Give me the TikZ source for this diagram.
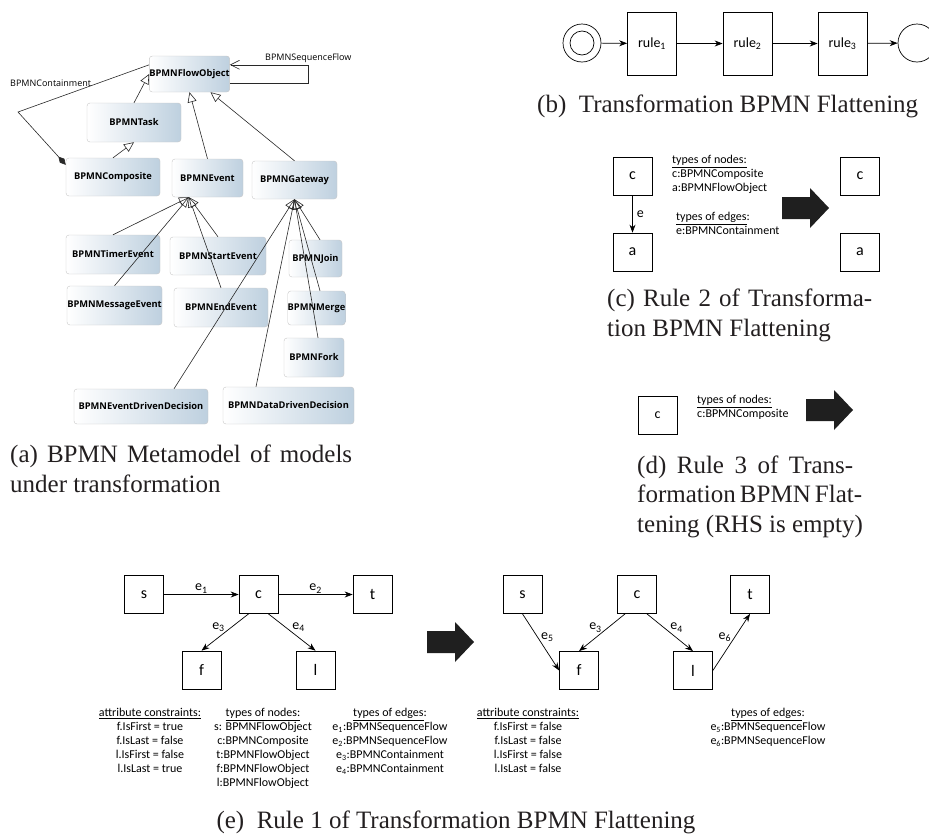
\documentclass[tikz,border=0pt]{standalone}
\usepackage{fontspec}
\setmainfont{Liberation Serif}
\newfontfamily\calfont{Carlito}
\newfontfamily\metafont{Open Sans}
\usetikzlibrary{arrows.meta,calc}

\definecolor{metablue}{RGB}{190,208,223}
\definecolor{metaline}{RGB}{40,40,40}
\definecolor{captext}{RGB}{35,31,32}

\newcommand{\lowsub}[1]{\textsubscript{#1}}
\newcommand{\blockarrow}[1]{\fill[black!88,shift={(#1)}] (-24,-11) -- (4,-11) -- (4,-20) -- (23,0) -- (4,20) -- (4,11) -- (-24,11) -- cycle;}

\tikzset{
  metabox/.style={draw=black!22, rounded corners=3pt, left color=white, right color=metablue, inner sep=0pt,
    font=\metafont\fontsize{9.3}{11}\selectfont\bfseries},
  metalabel/.style={inner sep=0pt, font=\metafont\fontsize{9}{11}\selectfont},
  isa/.style={draw=metaline, line width=0.6pt, -{Triangle[open,length=10pt,width=9pt]}},
  rulebox/.style={draw, line width=0.7pt, fill=white, minimum width=39pt, minimum height=38pt, inner sep=0pt,
    font=\calfont\fontsize{16}{18}\selectfont},
  flow/.style={line width=0.7pt, -{Stealth[length=8pt,width=6pt]}},
  elabel/.style={inner sep=1pt, font=\calfont\fontsize{14}{16}\selectfont},
  info/.style={inner sep=0pt, font=\calfont\fontsize{12}{14}\selectfont},
  caption/.style={inner sep=0pt, anchor=base west, text=captext, font=\fontsize{25}{30}\selectfont},
}

\begin{document}
\begin{tikzpicture}[x=1pt,y=-1pt]
\useasboundingbox (0,0) rectangle (929,833);

\node[metabox, minimum width=79pt, minimum height=36pt] (flow) at (189.5,74) {BPMNFlowObject};
\node[metabox, minimum width=94pt, minimum height=39pt] (task) at (134,122.5) {BPMNTask};
\node[metabox, minimum width=94pt, minimum height=38pt] (comp) at (113,177) {BPMNComposite};
\node[metabox, minimum width=71pt, minimum height=38pt] (event) at (207.5,178) {BPMNEvent};
\node[metabox, minimum width=85pt, minimum height=38pt] (gate) at (294.5,180) {BPMNGateway};
\node[metabox, minimum width=94pt, minimum height=39pt] (timer) at (113,254.5) {BPMNTimerEvent};
\node[metabox, minimum width=96pt, minimum height=38pt] (start) at (218,256) {BPMNStartEvent};
\node[metabox, minimum width=53pt, minimum height=37pt] (join) at (315.5,258.5) {BPMNJoin};
\node[metabox, minimum width=95pt, minimum height=39pt] (message) at (114.5,305.5) {BPMNMessageEvent};
\node[metabox, minimum width=94pt, minimum height=39pt] (endev) at (221,307.5) {BPMNEndEvent};
\node[metabox, minimum width=55pt, minimum height=34pt] (merge) at (316.5,308) {BPMNMerge};
\node[metabox, minimum width=60pt, minimum height=39pt] (fork) at (314,357.5) {BPMNFork};
\node[metabox, minimum width=134pt, minimum height=35pt] (evdec) at (141,406.5) {BPMNEventDrivenDecision};
\node[metabox, minimum width=131pt, minimum height=37pt] (dadec) at (288.5,405.5) {BPMNDataDrivenDecision};

\coordinate (evapex) at ($(event.south west)!0.24!(event.south east)$);
\coordinate (contbend) at (18,112);
\draw[isa] (task.north) -- ($(flow.north west)!0.5!(flow.south west)$);
\draw[isa] (comp.north) -- (task.south);
\draw[isa] (event.north) -- (flow.south);
\draw[isa] (gate.north) -- ($(flow.south west)!0.76!(flow.south east)$);
\foreach \child in {timer,message,start,endev}
  \draw[isa] (\child.north) -- (evapex);
\draw[isa] ([xshift=4.5pt]join.north) -- (gate.south);
\draw[isa] ([xshift=3.5pt]merge.north) -- (gate.south);
\draw[isa] ([xshift=4pt]fork.north) -- (gate.south);
\draw[isa] ([xshift=33pt]evdec.north) -- (gate.south);
\draw[isa] ([xshift=-32.5pt]dadec.north) -- (gate.south);
\draw[draw=metaline, line width=0.6pt, {Diamond[length=11pt,width=6pt]}-]
  ($(comp.north west)+(0,7)$) -- (contbend) -- ($(flow.north west)+(0,9)$);
\draw[draw=metaline, line width=0.6pt, -{Straight Barb[length=9pt,width=9pt]}]
  ($(flow.north east)+(0,27)$) -- ++(78,0) |- ($(flow.north east)+(0,9)$);
\node[metalabel, anchor=west] (seqlbl) at (265,58) {BPMNSequenceFlow};
\node[metalabel, anchor=west] (contlbl) at (10,83) {BPMNContainment};

\node[caption] (capA1) at (10,462) {\makebox[342pt][s]{(a) BPMN Metamodel of models}};
\node[caption] (capA2) at (10,492) {under transformation};

\node[circle, draw, line width=0.7pt, minimum size=38pt, inner sep=0pt] (init) at (582,43) {};
\node[circle, draw, line width=0.7pt, minimum size=24pt, inner sep=0pt] (initin) at (init) {};
\node[rulebox, minimum width=49pt, minimum height=63pt, font=\calfont\fontsize{14}{16}\selectfont] (rule1) at (652,43.5) {rule\lowsub{1}};
\node[rulebox, minimum width=49pt, minimum height=63pt, font=\calfont\fontsize{14}{16}\selectfont] (rule2) at (747.5,43.5) {rule\lowsub{2}};
\node[rulebox, minimum width=49pt, minimum height=63pt, font=\calfont\fontsize{14}{16}\selectfont] (rule3) at (842.5,43.5) {rule\lowsub{3}};
\node[circle, draw, line width=0.7pt, minimum size=38pt, inner sep=0pt] (final) at (917,43) {};
\draw[flow] (init) -- (rule1);
\draw[flow] (rule1) -- (rule2);
\draw[flow] (rule2) -- (rule3);
\draw[flow] (rule3) -- (final);
\node[caption] (capB) at (537,112) {(b)\hspace{0.5em}Transformation BPMN Flattening};

\node[rulebox] (cLhs) at (632.5,176) {c};
\node[rulebox] (aLhs) at (632.5,252) {a};
\node[rulebox] (cRhs) at (860,176) {c};
\node[rulebox] (aRhs) at (860,252) {a};
\draw[flow] (cLhs) -- node[elabel, right=3pt] {e} (aLhs);
\node[info, anchor=north west, align=left] (nodesC) at (672,155) {\underline{types of nodes:}\\c:BPMNComposite\\a:BPMNFlowObject};
\node[info, anchor=north west, align=left] (edgesC) at (676,212) {\underline{types of edges}:\\e:BPMNContainment};
\coordinate (arrC) at (806,208);
\blockarrow{arrC}
\node[caption] (capC1) at (607,306) {\makebox[265pt][s]{(c) Rule 2 of Transforma-}};
\node[caption] (capC2) at (607,336) {tion BPMN Flattening};

\node[rulebox, font=\calfont\fontsize{14}{16}\selectfont] (cDel) at (657.5,415.5) {c};
\node[info, anchor=north west, align=left] (nodesD) at (697,395) {\underline{types of nodes:}\\c:BPMNComposite};
\coordinate (arrD) at (830,410);
\blockarrow{arrD}
\node[caption] (capD1) at (637,473) {\makebox[216pt][s]{(d) Rule 3 of Trans-}};
\node[caption] (capD2) at (637,502) {\makebox[216pt][s]{formation BPMN Flat-}};
\node[caption] (capD3) at (637,532) {tening (RHS is empty)};

\node[rulebox] (sL) at (144,594.5) {s};
\node[rulebox] (cL) at (258.5,594.5) {c};
\node[rulebox] (tL) at (372.5,594.5) {t};
\node[rulebox] (fL) at (201.5,670) {f};
\node[rulebox] (lL) at (315.5,670) {l};
\draw[flow] (sL) -- node[elabel, above] {e\lowsub{1}} (cL);
\draw[flow] (cL) -- node[elabel, above] {e\lowsub{2}} (tL);
\draw[flow] ($(cL.south west)!0.25!(cL.south east)$) -- node[elabel, above left=-1pt] {e\lowsub{3}} (fL.north);
\draw[flow] ($(cL.south west)!0.75!(cL.south east)$) -- node[elabel, above right=-1pt] {e\lowsub{4}} (lL.north);
\coordinate (arrE) at (451,642);
\blockarrow{arrE}
\node[rulebox] (sR) at (522.5,594.5) {s};
\node[rulebox] (cR) at (637,594.5) {c};
\node[rulebox] (tR) at (750,594.5) {t};
\node[rulebox] (fR) at (579,670.5) {f};
\node[rulebox] (lR) at (693,670.5) {l};
\draw[flow] (sR.south) -- node[elabel, above right=-1pt] {e\lowsub{5}} (fR.west);
\draw[flow] ($(cR.south west)!0.2!(cR.south east)$) -- node[elabel, above left=-1pt] {e\lowsub{3}} (fR.north);
\draw[flow] ($(cR.south west)!0.75!(cR.south east)$) -- node[elabel, above right=-1pt] {e\lowsub{4}} (lR.north);
\draw[flow] (lR.east) -- node[elabel, above left=-1pt] {e\lowsub{6}} (tR.south);

\node[info, anchor=north, align=center] (attrL) at (150,708) {\underline{attribute constraints:}\\f.IsFirst = true\\f.IsLast = false\\l.IsFirst = false\\l.IsLast = true};
\node[info, anchor=north, align=center] (nodesL) at (263,708) {\underline{types of nodes:}\\s: BPMNFlowObject\\c:BPMNComposite\\t:BPMNFlowObject\\f:BPMNFlowObject\\l:BPMNFlowObject};
\node[info, anchor=north, align=center] (edgesL) at (390,708) {\underline{types of edges}:\\e\lowsub{1}:BPMNSequenceFlow\\e\lowsub{2}:BPMNSequenceFlow\\e\lowsub{3}:BPMNContainment\\e\lowsub{4}:BPMNContainment};
\node[info, anchor=north, align=center] (attrR) at (528,708) {\underline{attribute constraints:}\\f.IsFirst = false\\f.IsLast = false\\l.IsFirst = false\\l.IsLast = false};
\node[info, anchor=north, align=center] (edgesR) at (768,708) {\underline{types of edges}:\\e\lowsub{5}:BPMNSequenceFlow\\e\lowsub{6}:BPMNSequenceFlow};
\node[caption, anchor=base] (capE) at (456,828) {(e)\hspace{0.5em}Rule 1 of Transformation BPMN Flattening};
\end{tikzpicture}
\end{document}
